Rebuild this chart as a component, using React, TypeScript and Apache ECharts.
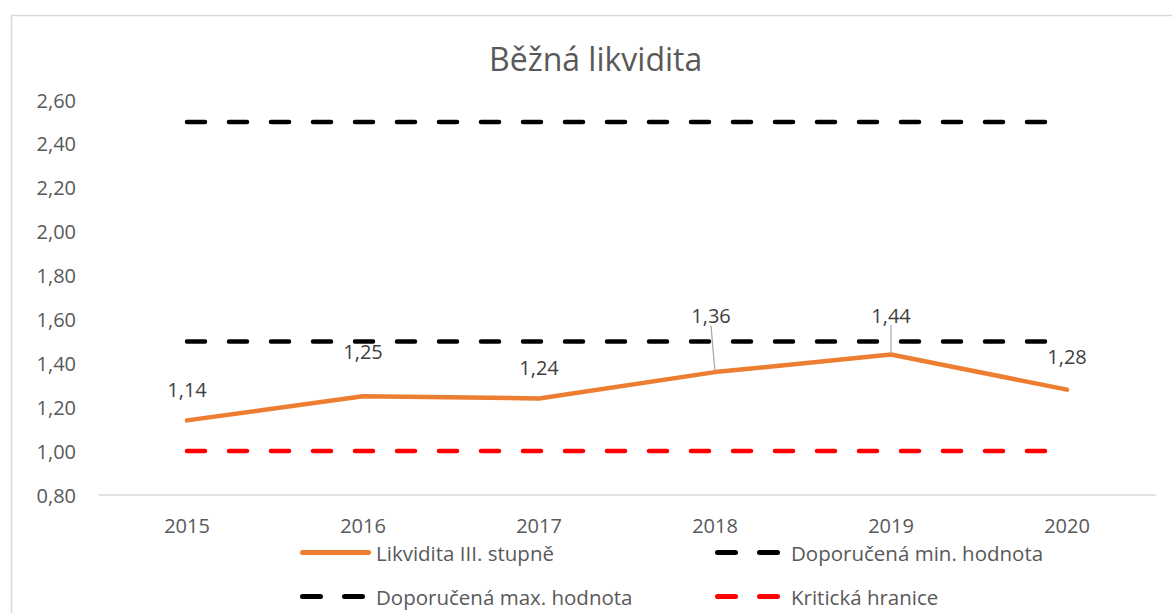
import React, { useEffect, useRef } from "react";
import * as echarts from "echarts";

const years = ["2015", "2016", "2017", "2018", "2019", "2020"];
const liquidity = [1.14, 1.25, 1.24, 1.36, 1.44, 1.28];
const recMin = [1.5, 1.5, 1.5, 1.5, 1.5, 1.5];
const recMax = [2.5, 2.5, 2.5, 2.5, 2.5, 2.5];
const critical = [1.0, 1.0, 1.0, 1.0, 1.0, 1.0];
const yTicks = { min: 0.8, max: 2.6, interval: 0.2 };

const seriesNames = [
  "Likvidita III. stupně",
  "Doporučená min. hodnota",
  "Doporučená max. hodnota",
  "Kritická hranice",
];

// label layout tweaks (shifts in px), and which labels get a leader line
const labelShiftY = [0, -14, 0, -26, -9, -3];
const labelShiftX = [0, 0, 0, -4, 0, 0];
const leaderLine = [false, false, false, true, true, false];

const FONT = "'Open Sans', 'Noto Sans', sans-serif";
const TXT = "#595959";
const dash = [18, 24];

const capsule = (x: number, w: number) =>
  `M${x + 2.5},0h${w - 5}a2.5,2.5 0 0 1 0,5h-${w - 5}a2.5,2.5 0 0 1 0,-5z`;
const solidIcon = "path://" + capsule(0, 71);
const dashIcon = "path://" + capsule(0, 23) + " " + capsule(42, 23);

export default function App() {
  const ref = useRef<HTMLDivElement>(null);
  useEffect(() => {
    if (!ref.current) return;
    const chart = echarts.init(ref.current, undefined, { renderer: "svg" });
    const fmt = (v: number) => v.toFixed(2).replace(".", ",");
    const dashedSeries = (name: string, data: number[], color: string) => ({
      name,
      type: "line",
      data,
      symbol: "none",
      silent: true,
      lineStyle: { color, width: 4.5, type: dash, cap: "round" },
      itemStyle: { color },
      z: 2,
    });
    const legendItem = (name: string, left: number, top: number, icon: string, w: number, pad: number) => ({
      data: [{ name, icon }],
      left,
      top,
      padding: 0,
      itemWidth: w,
      itemHeight: 5,
      textStyle: { color: TXT, fontFamily: FONT, fontSize: 20.5, padding: [0, 0, 0, pad] },
    });
    chart.setOption({
      animation: false,
      textStyle: { fontFamily: FONT },
      title: {
        text: "Běžná likvidita",
        left: 489,
        top: 42,
        padding: 0,
        textStyle: { fontFamily: FONT, fontSize: 32, fontWeight: "normal", color: TXT },
      },
      graphic: [
        {
          type: "rect",
          shape: { x: 11.5, y: 15.5, width: 1200, height: 700 },
          style: { fill: "none", stroke: "#D9D9D9", lineWidth: 1.5 },
          silent: true,
          z: -1,
        },
      ],
      grid: { left: 99, right: 17, top: 100, bottom: 118 },
      xAxis: {
        type: "category",
        data: years,
        boundaryGap: true,
        axisLine: { show: true, lineStyle: { color: "#D9D9D9", width: 1.5 } },
        axisTick: { show: false },
        axisLabel: { color: TXT, fontFamily: FONT, fontSize: 20, margin: 20 },
        splitLine: { show: false },
      },
      yAxis: {
        type: "value",
        min: yTicks.min,
        max: yTicks.max,
        interval: yTicks.interval,
        axisLine: { show: false },
        axisTick: { show: false },
        splitLine: { show: false },
        axisLabel: {
          color: TXT,
          fontFamily: FONT,
          fontSize: 20,
          margin: 23,
          formatter: (v: number) => fmt(v),
        },
      },
      legend: [
        legendItem(seriesNames[0], 300, 542, solidIcon, 71, 0),
        legendItem(seriesNames[1], 715, 542, dashIcon, 65, 6),
        legendItem(seriesNames[2], 300, 586, dashIcon, 65, 6),
        legendItem(seriesNames[3], 715, 586, dashIcon, 65, 6),
      ],
      series: [
        {
          name: seriesNames[0],
          type: "line",
          data: liquidity.map((v, i) => ({
            value: v,
            labelLine: { show: leaderLine[i] },
          })),
          symbol: "circle",
          symbolSize: 1,
          showSymbol: true,
          lineStyle: { color: "#ED7D31", width: 4.5, cap: "round", join: "round" },
          itemStyle: { color: "#ED7D31" },
          z: 3,
          label: {
            show: true,
            position: "top",
            distance: 20,
            color: "#404040",
            fontFamily: FONT,
            fontSize: 20,
            formatter: (p: any) => fmt(p.value),
          },
          labelLine: {
            show: false,
            lineStyle: { color: "#A6A6A6", width: 1.2 },
          },
          labelLayout: (p: any) => ({ dx: labelShiftX[p.dataIndex], dy: labelShiftY[p.dataIndex] }),
        },
        dashedSeries(seriesNames[1], recMin, "#000000"),
        dashedSeries(seriesNames[2], recMax, "#000000"),
        dashedSeries(seriesNames[3], critical, "#FF0000"),
      ],
    });
    return () => chart.dispose();
  }, []);
  return (
    <div
      ref={ref}
      style={{ position: "absolute", left: 0, top: 0, width: 1172, height: 613, background: "#fff" }}
    />
  );
}
